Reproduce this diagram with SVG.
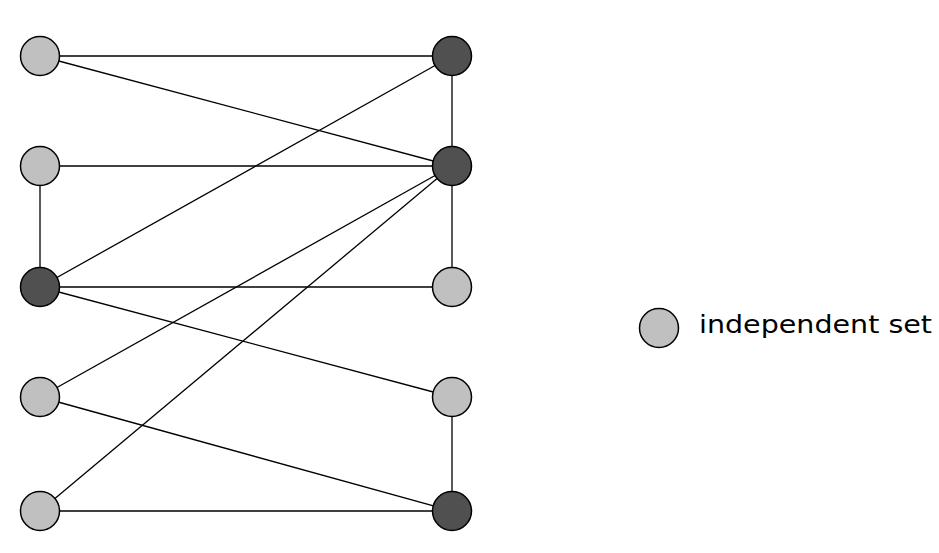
<svg xmlns="http://www.w3.org/2000/svg" width="939" height="553" viewBox="0 0 939 553">
<style>
.e{stroke:#000;stroke-width:1.3;fill:none}
.l{fill:#c0c0c0;stroke:#000;stroke-width:1.5}
.d{fill:#505050;stroke:#000;stroke-width:1.5}
.t{font-family:"Comic Sans MS","DejaVu Sans",sans-serif;font-size:25px;fill:#000}
</style>
<rect width="939" height="553" fill="#fff"/>
<g id="edges">
<line class="e" x1="40" y1="56" x2="452" y2="56"/>
<line class="e" x1="40" y1="56" x2="452" y2="166"/>
<line class="e" x1="40" y1="166" x2="452" y2="166"/>
<line class="e" x1="40" y1="166" x2="40" y2="287"/>
<line class="e" x1="40" y1="287" x2="452" y2="56"/>
<line class="e" x1="40" y1="287" x2="452" y2="287"/>
<line class="e" x1="40" y1="287" x2="452" y2="397"/>
<line class="e" x1="40" y1="397" x2="452" y2="166"/>
<line class="e" x1="40" y1="397" x2="452" y2="511"/>
<line class="e" x1="40" y1="511" x2="452" y2="166"/>
<line class="e" x1="40" y1="511" x2="452" y2="511"/>
<line class="e" x1="452" y1="56" x2="452" y2="166"/>
<line class="e" x1="452" y1="166" x2="452" y2="287"/>
<line class="e" x1="452" y1="397" x2="452" y2="511"/>
</g>
<g id="L1"><circle class="l" cx="40" cy="56" r="19.5"/></g>
<g id="L2"><circle class="l" cx="40" cy="166" r="19.5"/></g>
<g id="L3"><circle class="d" cx="40" cy="287" r="19.5"/></g>
<g id="L4"><circle class="l" cx="40" cy="397" r="19.5"/></g>
<g id="L5"><circle class="l" cx="40" cy="511" r="19.5"/></g>
<g id="R1"><circle class="d" cx="452" cy="56" r="19.5"/></g>
<g id="R2"><circle class="d" cx="452" cy="166" r="19.5"/></g>
<g id="R3"><circle class="l" cx="452" cy="287" r="19.5"/></g>
<g id="R4"><circle class="l" cx="452" cy="397" r="19.5"/></g>
<g id="R5"><circle class="d" cx="452" cy="511" r="19.5"/></g>
<g id="legend">
<circle class="l" cx="659" cy="328" r="19.5"/>
<text class="t" x="699" y="333" textLength="233" lengthAdjust="spacingAndGlyphs">independent set</text>
</g>
</svg>
